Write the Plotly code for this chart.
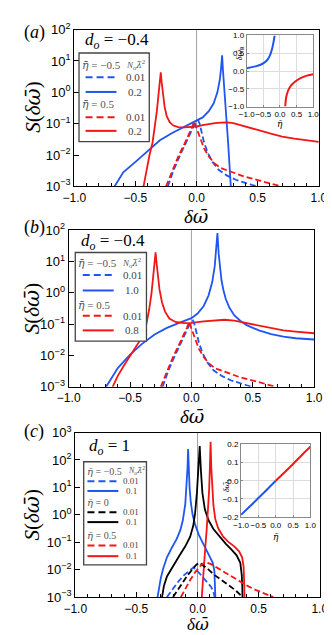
import plotly.graph_objects as go

# ---------------------------------------------------------------
# data: x = delta omega, values are log10 S
# ---------------------------------------------------------------

# panel (a), d_o = -0.4
a_blue_solid_x = [-0.67, -0.6, -0.5, -0.4, -0.3, -0.2, -0.1, 0.0, 0.05, 0.10, 0.14, 0.17,
                  0.19, 0.20, 0.209, 0.215, 0.222, 0.232, 0.245, 0.258, 0.268, 0.276, 0.28]
a_blue_solid_log = [-3.0, -2.55, -2.22, -1.87, -1.53, -1.30, -1.10, -0.92, -0.80, -0.60, -0.35, 0.0,
                    0.40, 0.75, 1.18, 0.75, 0.30, -0.30, -0.90, -1.60, -2.20, -2.70, -3.0]
a_red_solid_x = [-0.434, -0.41, -0.385, -0.36, -0.34, -0.325, -0.312, -0.303, -0.293, -0.285,
                 -0.275, -0.262, -0.245, -0.22, -0.19, -0.15, -0.10, -0.05, 0.0, 0.05, 0.10,
                 0.15, 0.20, 0.25, 0.30, 0.40, 0.50, 0.60, 0.70, 0.80, 0.90, 1.00]
a_red_solid_log = [-3.0, -2.5, -2.0, -1.6, -1.1, -0.6, -0.1, 0.3, 0.64, 0.3,
                   -0.1, -0.45, -0.75, -0.95, -1.06, -1.11, -1.12, -1.11, -1.09, -1.05, -1.01,
                   -0.98, -0.965, -0.96, -0.98, -1.08, -1.20, -1.31, -1.41, -1.48, -1.54, -1.58]

# weak coupling (0.01) curves, identical in (a) and (b)
ab_blue_dash_x = [-0.235, -0.19, -0.14, -0.09, -0.05, -0.02, 0.013, 0.025, 0.04, 0.06, 0.09,
                  0.13, 0.18, 0.25, 0.32, 0.40, 0.45, 0.50]
ab_blue_dash_log = [-3.0, -2.5, -2.05, -1.65, -1.30, -1.05, -0.89, -1.0, -1.25, -1.58, -1.92,
                    -2.22, -2.47, -2.66, -2.79, -2.90, -2.95, -3.0]
ab_red_dash_x = [-0.25, -0.2, -0.15, -0.10, -0.06, -0.035, -0.02, 0.005, 0.03, 0.06, 0.10,
                 0.15, 0.20, 0.30, 0.40, 0.50, 0.60, 0.69]
ab_red_dash_log = [-3.0, -2.5, -2.05, -1.65, -1.32, -1.10, -0.93, -1.2, -1.45, -1.78, -2.05,
                   -2.28, -2.42, -2.57, -2.70, -2.80, -2.90, -3.0]

# panel (b), d_o = -0.4
b_blue_solid_x = [-0.695, -0.65, -0.6, -0.5, -0.4, -0.3, -0.2, -0.1, 0.0, 0.05, 0.10, 0.14,
                  0.17, 0.19, 0.20, 0.212, 0.222, 0.232, 0.245, 0.26, 0.28, 0.31, 0.35, 0.40,
                  0.45, 0.55, 0.65, 0.75, 0.85, 1.0]
b_blue_solid_log = [-3.0, -2.7, -2.40, -1.97, -1.62, -1.33, -1.12, -0.96, -0.81, -0.66, -0.42, -0.08,
                    0.35, 0.85, 1.25, 1.91, 1.25, 0.80, 0.40, 0.10, -0.20, -0.48, -0.72, -0.90,
                    -1.03, -1.20, -1.32, -1.40, -1.45, -1.49]
b_red_solid_x = [-0.642, -0.6, -0.55, -0.5, -0.45, -0.40, -0.37, -0.345, -0.325, -0.31, -0.3,
                 -0.292, -0.284, -0.275, -0.26, -0.24, -0.215, -0.18, -0.13, -0.06, 0.0, 0.1,
                 0.2, 0.27, 0.35, 0.45, 0.55, 0.65, 0.75, 0.85, 1.0]
b_red_solid_log = [-3.0, -2.65, -2.32, -2.0, -1.72, -1.40, -1.05, -0.55, 0.0, 0.55, 0.95,
                   1.29, 0.95, 0.55, 0.10, -0.30, -0.60, -0.82, -0.93, -0.97, -0.96, -0.91,
                   -0.87, -0.86, -0.89, -0.97, -1.06, -1.13, -1.20, -1.24, -1.29]

# panel (c), d_o = 1
c_blue_solid_x = [-0.327, -0.315, -0.30, -0.28, -0.25, -0.21, -0.17, -0.14, -0.12, -0.10, -0.09,
                  -0.082, -0.077, -0.072, -0.065, -0.055, -0.04, -0.02, 0.01, 0.04, 0.07, 0.10,
                  0.125, 0.138, 0.143, 0.146]
c_blue_solid_log = [-3.0, -2.6, -2.3, -1.95, -1.55, -1.2, -0.88, -0.55, -0.2, 0.4, 1.0,
                    1.7, 2.40, 1.7, 1.0, 0.45, 0.0, -0.35, -0.72, -1.0, -1.25, -1.5,
                    -1.75, -2.05, -2.5, -3.0]
c_black_solid_x = [-0.29, -0.275, -0.25, -0.20, -0.15, -0.10, -0.06, -0.035, -0.02, -0.005,
                   0.008, 0.018, 0.028, 0.04, 0.06, 0.09, 0.13, 0.18, 0.23, 0.28, 0.32, 0.35,
                   0.362, 0.366, 0.368]
c_black_solid_log = [-3.0, -2.6, -2.25, -1.85, -1.50, -1.15, -0.80, -0.40, 0.05, 0.8,
                     1.6, 2.51, 1.6, 0.8, 0.2, -0.20, -0.52, -0.80, -1.05, -1.28, -1.48, -1.75,
                     -2.2, -2.6, -3.0]
c_red_solid_x = [0.035, 0.045, 0.055, 0.065, 0.075, 0.085, 0.095, 0.101, 0.107, 0.113, 0.12,
                 0.13, 0.145, 0.17, 0.21, 0.25, 0.30, 0.34, 0.365, 0.377, 0.382, 0.384]
c_red_solid_log = [-3.0, -2.2, -1.6, -1.1, -0.55, 0.05, 0.9, 1.7, 2.66, 1.7, 1.0,
                   0.35, -0.15, -0.50, -0.80, -0.98, -1.15, -1.33, -1.55, -1.9, -2.5, -3.0]
c_blue_dash_x = [-0.25, -0.21, -0.16, -0.11, -0.06, -0.033, -0.01, 0.03, 0.07, 0.11, 0.13, 0.14]
c_blue_dash_log = [-3.0, -2.75, -2.45, -2.2, -2.0, -1.92, -2.0, -2.2, -2.42, -2.62, -2.8, -3.0]
c_black_dash_x = [-0.20, -0.16, -0.12, -0.08, -0.04, -0.01, 0.018, 0.05, 0.09, 0.14, 0.20,
                  0.26, 0.31, 0.35, 0.365]
c_black_dash_log = [-3.0, -2.72, -2.45, -2.2, -1.98, -1.82, -1.75, -1.85, -2.0, -2.2, -2.4,
                    -2.57, -2.75, -2.92, -3.0]
c_red_dash_x = [-0.136, -0.10, -0.06, -0.02, 0.02, 0.05, 0.075, 0.11, 0.16, 0.21, 0.26, 0.31,
                0.36, 0.42, 0.48, 0.55, 0.62]
c_red_dash_log = [-3.0, -2.7, -2.38, -2.1, -1.88, -1.77, -1.74, -1.80, -1.93, -2.07, -2.22, -2.35,
                  -2.48, -2.62, -2.75, -2.88, -3.0]

# inset (a): real part of the shift vs eta
ia_blue_eta = [-1.0, -0.74, -0.55, -0.41, -0.31, -0.24, -0.19, -0.16]
ia_blue_val = [0.08, 0.13, 0.19, 0.28, 0.42, 0.61, 0.83, 1.0]
ia_red_eta = [0.16, 0.2, 0.30, 0.44, 0.62, 0.81, 1.0]
ia_red_val = [-1.0, -0.68, -0.45, -0.31, -0.20, -0.13, -0.09]

# inset (c): imaginary part vs eta
ic_blue_eta = [-1.0, -0.75, -0.5, -0.25, 0.0]
ic_blue_val = [-0.187, -0.141, -0.095, -0.048, 0.0]
ic_red_eta = [0.0, 0.25, 0.5, 0.75, 1.0]
ic_red_val = [0.0, 0.045, 0.092, 0.14, 0.186]

x_ticks = [-1.0, -0.5, 0.0, 0.5, 1.0]
decades_ab = [-3, -2, -1, 0, 1, 2]
decades_c = [-3, -2, -1, 0, 1, 2, 3]

BLUE = "#1f55f2"
RED = "#f21616"
BLACK = "#000000"
W, H = 332, 635
SERIF = "Liberation Serif"
SANS = "Liberation Sans"


def px(v):
    return v / W


def py(v):
    return 1 - v / H


def pow10(vals):
    return [10 ** v for v in vals]


def dec_labels(decs):
    return ["10<sup>%s</sup>" % (str(d).replace("-", "−")) for d in decs]


fig = go.Figure()


def add_curve(xs, logs, color, dash, ax):
    fig.add_trace(go.Scatter(
        x=xs, y=pow10(logs), mode="lines",
        line=dict(color=color, width=1.8, dash="6px,3px" if dash else "solid"),
        xaxis="x" + ax, yaxis="y" + ax, showlegend=False, hoverinfo="skip"))


# main panels
add_curve(a_blue_solid_x, a_blue_solid_log, BLUE, False, "")
add_curve(a_red_solid_x, a_red_solid_log, RED, False, "")
add_curve(ab_blue_dash_x, ab_blue_dash_log, BLUE, True, "")
add_curve(ab_red_dash_x, ab_red_dash_log, RED, True, "")

add_curve(b_blue_solid_x, b_blue_solid_log, BLUE, False, "2")
add_curve(b_red_solid_x, b_red_solid_log, RED, False, "2")
add_curve(ab_blue_dash_x, ab_blue_dash_log, BLUE, True, "2")
add_curve(ab_red_dash_x, ab_red_dash_log, RED, True, "2")

add_curve(c_blue_solid_x, c_blue_solid_log, BLUE, False, "3")
add_curve(c_black_solid_x, c_black_solid_log, BLACK, False, "3")
add_curve(c_red_solid_x, c_red_solid_log, RED, False, "3")
add_curve(c_blue_dash_x, c_blue_dash_log, BLUE, True, "3")
add_curve(c_black_dash_x, c_black_dash_log, BLACK, True, "3")
add_curve(c_red_dash_x, c_red_dash_log, RED, True, "3")

# insets
for xs, ys, col, ax in [(ia_blue_eta, ia_blue_val, BLUE, "4"), (ia_red_eta, ia_red_val, RED, "4"),
                        (ic_blue_eta, ic_blue_val, BLUE, "5"), (ic_red_eta, ic_red_val, RED, "5")]:
    fig.add_trace(go.Scatter(x=xs, y=ys, mode="lines", line=dict(color=col, width=2, shape="spline"),
                             xaxis="x" + ax, yaxis="y" + ax, showlegend=False, hoverinfo="skip"))


def main_x(dom, anchor):
    return dict(domain=dom, anchor=anchor, range=[-1, 1], tickvals=x_ticks,
                ticktext=["−1.0", "−0.5", "0.0", "0.5", "1.0"],
                ticks="inside", ticklen=5, tickcolor="black", showline=True, linecolor="black",
                linewidth=1.3, mirror=True, showgrid=False, zeroline=False,
                tickfont=dict(family=SANS, size=12, color="black"),
                minor=dict(ticks="inside", dtick=0.1, ticklen=3, tickcolor="black"))


def main_y(dom, anchor, top, decs):
    return dict(domain=dom, anchor=anchor, type="log", range=[-3, top],
                tickvals=pow10(decs), ticktext=dec_labels(decs),
                ticks="inside", ticklen=5, tickcolor="black",
                showline=True, linecolor="black", linewidth=1.3, mirror=True, showgrid=False,
                zeroline=False, tickfont=dict(family=SANS, size=13, color="black"))


def inset_x(dom, anchor):
    return dict(domain=dom, anchor=anchor, range=[-1, 1], tickvals=x_ticks,
                ticktext=["−1.0", "−0.5", "0.0", "0.5", "1.0"], tickangle=0,
                showline=True, linecolor="#888", linewidth=1, mirror=True, ticks="inside",
                ticklen=2, tickcolor="#888", showgrid=True, gridcolor="#dcdcdc", zeroline=False,
                tickfont=dict(family=SANS, size=8, color="black"))


def inset_y(dom, anchor, vals):
    return dict(domain=dom, anchor=anchor, range=[vals[0], vals[-1]], tickvals=vals,
                ticktext=[("%.1f" % v).replace("-", "−") for v in vals], tickangle=0,
                showline=True, linecolor="#888", linewidth=1, mirror=True, ticks="inside",
                ticklen=2, tickcolor="#888", showgrid=True, gridcolor="#dcdcdc", zeroline=False,
                tickfont=dict(family=SANS, size=8, color="black"))


fig.update_layout(
    width=W, height=H, margin=dict(l=0, r=0, t=0, b=0),
    paper_bgcolor="white", plot_bgcolor="white",
    xaxis=main_x([px(58), px(319)], "y"),
    yaxis=main_y([py(174), py(13)], "x", 2, decades_ab),
    xaxis2=main_x([px(52), px(314)], "y2"),
    yaxis2=main_y([py(380), py(219)], "x2", 2, decades_ab),
    xaxis3=main_x([px(59), px(320)], "y3"),
    yaxis3=main_y([py(596), py(427)], "x3", 3, decades_c),
    xaxis4=inset_x([px(242), px(313)], "y4"),
    yaxis4=inset_y([py(92), py(19)], "x4", [-1.0, -0.5, 0.0, 0.5, 1.0]),
    xaxis5=inset_x([px(236), px(310)], "y5"),
    yaxis5=inset_y([py(514), py(439)], "x5", [-0.2, -0.1, 0.0, 0.1, 0.2]),
)

shapes = []
ann = []

# gray line at zero
for ax in ["", "2", "3"]:
    shapes.append(dict(type="line", xref="x" + ax, yref="y" + ax + " domain", x0=0, x1=0, y0=0, y1=1,
                       line=dict(color="#a0a0a0", width=1), layer="below"))


def text(x, y, s, size, color="black", xanchor="center", yanchor="middle", family=SERIF, angle=0):
    ann.append(dict(x=px(x), y=py(y), xref="paper", yref="paper", text=s, showarrow=False,
                    xanchor=xanchor, yanchor=yanchor, textangle=angle,
                    font=dict(family=family, size=size, color=color)))


# letters with a bar on top: DejaVu places the combining macron properly
ETA = "<span style='font-family:DejaVu Serif'><i>η\u0304</i></span>"
OMB = "<span style='font-family:DejaVu Serif'><i>ω\u0304</i></span>"
LAM = "<span style='font-family:DejaVu Serif'><i>λ\u0304</i></span>"
NL = "<i>N</i><sub>o</sub>" + LAM + "<sup>2</sup>"
SW = "<i>S</i>(<i>δ</i>" + OMB + ")"
DW = "<i>δ</i>" + OMB

# panel labels, titles, d_o
for lab, y in [("a", 16), ("b", 216), ("c", 426)]:
    text(15, y, "(<i>%s</i>)" % lab, 18)
text(13, 93, SW, 21, angle=-90)
text(13, 300, SW, 21, angle=-90)
text(13, 512, SW, 21, angle=-90)
text(188, 204, DW, 19)
text(184, 410, DW, 19)
text(190, 636, DW, 17, yanchor="bottom")
text(67, 25, "<i>d<sub>o</sub></i> = −0.4", 17, xanchor="left")
text(63, 231, "<i>d<sub>o</sub></i> = −0.4", 17, xanchor="left")
text(71, 442, "<i>d<sub>o</sub></i> = 1", 17, xanchor="left")

# inset labels
text(278, 110, ETA, 9)
text(235, 37, "<i>δ</i>" + OMB + "<sub>R</sub>", 8, angle=-90)
text(273, 534, ETA, 9)
text(221, 482, "<i>δ</i>" + OMB + "<sub>I</sub>", 8, angle=-90)


def legend_box(x0, y0, x1, y1, rows, line_x, val_x, hdr_x, nl_x, size, val_size):
    shapes.append(dict(type="rect", xref="paper", yref="paper", x0=px(x0), x1=px(x1), y0=py(y1), y1=py(y0),
                       line=dict(color="#444", width=1.3), fillcolor="white", layer="above"))
    first = True
    for row in rows:
        if row[0] == "h":
            text(hdr_x, row[2], row[1], size, color="#555", xanchor="left")
            if first:
                text(nl_x, row[2] - 1, NL, size - 2, color="#555", xanchor="left")
                first = False
        else:
            _, col, dash, y, val = row
            shapes.append(dict(type="line", xref="paper", yref="paper", x0=px(line_x[0]), x1=px(line_x[1]),
                               y0=py(y), y1=py(y), layer="above",
                               line=dict(color=col, width=2, dash="7px,4px" if dash else "solid")))
            text(val_x, y, val, val_size, color="#444")


legend_box(63, 37, 138, 128,
           [("h", ETA + " = −0.5", 50), ("l", BLUE, True, 62, "0.01"), ("l", BLUE, False, 77, "0.2"),
            ("h", ETA + " = 0.5", 90), ("l", RED, True, 103, "0.01"), ("l", RED, False, 117, "0.2")],
           (70, 103), 123, 64, 111, 11, 11)
legend_box(59, 242, 135, 333,
           [("h", ETA + " = −0.5", 253), ("l", BLUE, True, 265, "0.01"), ("l", BLUE, False, 281, "1.0"),
            ("h", ETA + " = 0.5", 296), ("l", RED, True, 307, "0.01"), ("l", RED, False, 322, "0.8")],
           (67, 100), 120, 60, 107, 11, 11)
legend_box(68, 457, 135, 563,
           [("h", ETA + " = −0.5", 467), ("l", BLUE, True, 477, "0.01"), ("l", BLUE, False, 487, "0.1"),
            ("h", ETA + " = 0", 499), ("l", BLACK, True, 509, "0.01"), ("l", BLACK, False, 519, "0.1"),
            ("h", ETA + " = 0.5", 533), ("l", RED, True, 543, "0.01"), ("l", RED, False, 554, "0.1")],
           (72, 105), 119, 69, 113, 10, 9)

fig.update_layout(shapes=shapes, annotations=ann)
fig.write_html("out.html")
